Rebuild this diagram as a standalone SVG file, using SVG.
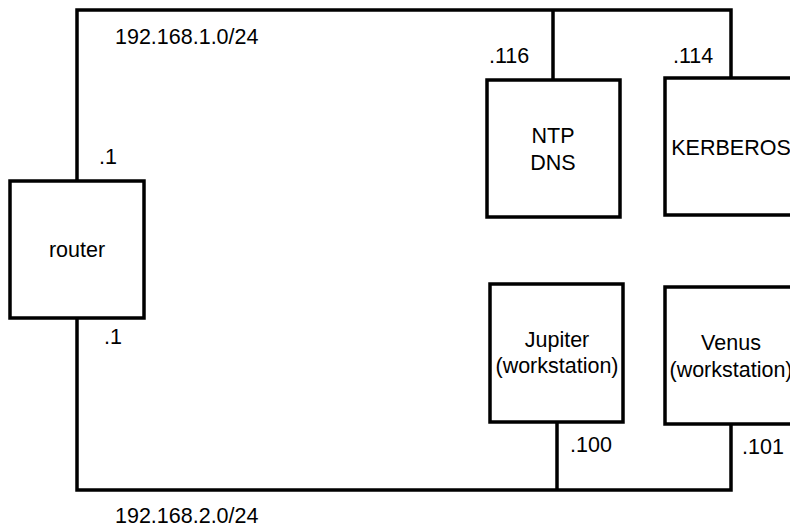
<svg xmlns="http://www.w3.org/2000/svg" width="790" height="529" viewBox="0 0 790 529">
<style>
.box{fill:#fff;stroke:#000;stroke-width:3.5}
.wire{fill:none;stroke:#000;stroke-width:3.5}
text{font-family:"Liberation Sans",Arial,sans-serif;font-size:21.5px;fill:#000}
.c{text-anchor:middle}
</style>
<rect width="790" height="529" fill="#fff"/>
<g id="connectors">
<polyline class="wire" points="77,181 77,10 731,10 731,78"/>
<line class="wire" x1="553" y1="10" x2="553" y2="80"/>
<polyline class="wire" points="77,318 77,490 731,490 731,424"/>
<line class="wire" x1="557" y1="490" x2="557" y2="422"/>
</g>
<g id="labels">
<text x="115" y="44">192.168.1.0/24</text>
<text x="115" y="523">192.168.2.0/24</text>
<text x="99" y="164">.1</text>
<text x="104" y="344">.1</text>
<text x="489" y="63">.116</text>
<text x="673" y="63">.114</text>
<text x="570" y="452">.100</text>
<text x="742" y="454">.101</text>
</g>
<g id="router">
<rect class="box" x="10" y="181" width="134" height="137"/>
<text class="c" x="77" y="257">router</text>
</g>
<g id="ntpdns">
<rect class="box" x="487" y="80" width="133" height="137"/>
<text class="c" x="553" y="143">NTP</text>
<text class="c" x="553" y="170">DNS</text>
</g>
<g id="kerberos">
<rect class="box" x="665" y="78" width="133" height="137"/>
<text class="c" x="731" y="155">KERBEROS</text>
</g>
<g id="jupiter">
<rect class="box" x="490" y="284" width="133" height="138"/>
<text class="c" x="557" y="347">Jupiter</text>
<text class="c" x="557" y="373">(workstation)</text>
</g>
<g id="venus">
<rect class="box" x="665" y="287" width="133" height="137"/>
<text class="c" x="731" y="350">Venus</text>
<text class="c" x="731" y="377">(workstation)</text>
</g>
</svg>
